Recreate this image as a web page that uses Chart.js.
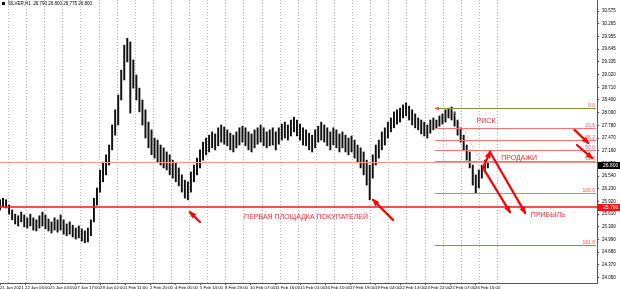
<!DOCTYPE html>
<html>
<head>
<meta charset="utf-8">
<script src="https://cdn.jsdelivr.net/npm/chart.js@4/dist/chart.umd.min.js"></script>
<style>
    html, body { margin: 0; padding: 0; background: #fff; }
    canvas { display: block; }
</style>
</head>
<body>
<canvas id="myChart" width="620" height="289"></canvas>
<script>
// price bars (one bar = 4 hours), highs and lows
const highs = [
    25.96, 26.00, 25.96, 25.83, 25.71, 25.61, 25.57, 25.66, 25.59, 25.52,
    25.61, 25.52, 25.47, 25.57, 25.66, 25.59, 25.49, 25.42, 25.52, 25.47,
    25.59, 25.47, 25.37, 25.42, 25.34, 25.27, 25.32, 25.25, 25.20, 25.27,
    25.47, 26.00, 26.25, 26.69, 26.88, 27.06, 27.30, 27.79, 28.16, 28.52,
    29.13, 29.74, 29.91, 29.82, 29.38, 29.01, 28.69, 28.40, 28.16, 27.86,
    27.67, 27.47, 27.42, 27.30, 27.23, 27.13, 27.06, 26.93, 26.86, 26.74,
    26.57, 26.44, 26.40, 26.64, 26.81, 26.98, 27.18, 27.37, 27.47, 27.54,
    27.62, 27.57, 27.72, 27.79, 27.74, 27.67, 27.59, 27.54, 27.62, 27.72,
    27.76, 27.72, 27.62, 27.57, 27.67, 27.72, 27.79, 27.72, 27.62, 27.67,
    27.72, 27.62, 27.72, 27.81, 27.86, 27.79, 27.91, 27.98, 27.91, 27.81,
    27.72, 27.67, 27.59, 27.54, 27.67, 27.76, 27.86, 27.79, 27.72, 27.62,
    27.72, 27.67, 27.57, 27.62, 27.54, 27.47, 27.52, 27.42, 27.30, 27.23,
    27.13, 26.93, 26.81, 27.06, 27.30, 27.42, 27.62, 27.72, 27.86, 27.96,
    28.11, 28.16, 28.20, 28.28, 28.33, 28.25, 28.16, 28.06, 27.96, 27.91,
    27.86, 27.79, 27.91, 27.96, 27.91, 28.01, 28.06, 28.16, 28.20, 28.23,
    28.11, 27.91, 27.72, 27.54, 27.30, 27.13, 26.81, 26.57, 26.69, 26.81,
    26.93, 26.88
];
const lows = [
    25.71, 25.79, 25.76, 25.61, 25.47, 25.37, 25.32, 25.42, 25.30, 25.27,
    25.32, 25.22, 25.20, 25.27, 25.32, 25.25, 25.20, 25.15, 25.22, 25.17,
    25.22, 25.12, 25.08, 25.12, 25.05, 25.00, 25.03, 24.95, 24.91, 24.93,
    25.08, 25.42, 25.83, 26.15, 26.40, 26.57, 26.81, 27.18, 27.54, 27.79,
    28.40, 28.89, 29.33, 28.08, 28.69, 28.40, 28.11, 27.79, 27.47, 27.23,
    27.06, 26.98, 26.88, 26.81, 26.74, 26.69, 26.57, 26.49, 26.40, 26.30,
    26.15, 26.00, 25.96, 26.15, 26.40, 26.57, 26.74, 26.93, 27.06, 27.13,
    27.23, 27.18, 27.28, 27.37, 27.32, 27.28, 27.18, 27.13, 27.23, 27.30,
    27.37, 27.28, 27.18, 27.13, 27.23, 27.32, 27.37, 27.28, 27.23, 27.28,
    27.30, 27.18, 27.32, 27.42, 27.47, 27.42, 27.52, 27.62, 27.52, 27.42,
    27.30, 27.28, 27.18, 27.13, 27.23, 27.37, 27.42, 27.37, 27.28, 27.18,
    27.30, 27.23, 27.13, 27.23, 27.13, 27.06, 27.13, 26.98, 26.88, 26.74,
    26.57, 26.32, 25.96, 26.49, 26.81, 26.98, 27.18, 27.30, 27.47, 27.62,
    27.72, 27.81, 27.86, 27.96, 28.01, 27.91, 27.79, 27.72, 27.67, 27.57,
    27.52, 27.47, 27.59, 27.67, 27.72, 27.76, 27.81, 27.86, 27.96, 27.91,
    27.76, 27.54, 27.37, 27.18, 26.93, 26.74, 26.32, 26.13, 26.25, 26.49,
    26.64, 26.74
];

// axis labels
const priceTicks = [
    30.575, 30.265, 29.955, 29.645, 29.335, 29.020, 28.710, 28.400, 28.090, 27.780, 27.470,
    27.160, 26.850, 26.540, 26.230, 25.920, 25.610, 25.300, 24.990, 24.680, 24.370, 24.050
];
const dateLabels = [
    "21 Jan 2021", "22 Jan 06:00", "25 Jan 04:00", "27 Jan 17:00", "29 Jan 02:00",
    "1 Feb 11:00", "2 Feb 20:00", "4 Feb 05:00", "5 Feb 14:00", "8 Feb 23:00",
    "10 Feb 07:00", "11 Feb 16:00", "15 Feb 01:00", "16 Feb 10:00", "17 Feb 19:00",
    "19 Feb 04:00", "22 Feb 13:00", "23 Feb 22:00", "25 Feb 07:00", "26 Feb 16:00"
];

// fibonacci levels
const fibNames = ["0.0", "23.6", "38.2", "50.0", "61.8", "100.0", "161.8"];
const fibPrices = [28.20, 27.71, 27.41, 27.17, 26.92, 26.13, 24.85];
const fibColors = ["#7a9a3a", "#ff7070", "#ff7070", "#ff7070", "#ff7070", "#ff7070", "#7a9a3a"];

const buyersLine = 25.79;
const pinkLine = 26.88;
const lastPrice = 26.80;
const headerText = "SILVER,H1  26.790 26.800 26.775 26.800";

// annotations: [bar, price]
const arrows = [
    { from: [66.0, 25.42], to: [62.7, 25.66], head: true },
    { from: [129.7, 25.47], to: [123.1, 25.96], head: true },
    { from: [159.4, 26.74], to: [161.7, 27.13], head: true },
    { from: [159.4, 26.74], to: [168.3, 25.66], head: true },
    { from: [161.7, 27.13], to: [173.3, 25.64], head: true },
    { from: [189.6, 27.67], to: [194.1, 27.35], head: true },
    { from: [190.4, 27.30], to: [195.4, 26.98], head: true }
];
const notes = [
    { text: "РИСК", at: [160.4, 27.88] },
    { text: "ПРОДАЖИ", at: [171.3, 26.98] },
    { text: "ПРИБЫЛЬ", at: [180.9, 25.59] },
    { text: "ПЕРВАЯ ПЛОЩАДКА ПОКУПАТЕЛЕЙ", at: [101.0, 25.54] }
];
const fibStart = 143.6;

const X_MAX = 197;
const LABEL_STEP = 8.25;
const GRID_START = 2.64;
const GRID_STEP = 5.977;
const GRID_COUNT = 28;
const SMALL_FONT = "'Liberation Sans Narrow', 'Liberation Sans'";

function drawArrow(ctx, x1, y1, x2, y2, head) {
    ctx.beginPath();
    ctx.moveTo(x1, y1);
    ctx.lineTo(x2, y2);
    ctx.stroke();
    if (!head) return;
    let a = Math.atan2(y2 - y1, x2 - x1);
    let len = 6, w = 3;
    ctx.beginPath();
    ctx.moveTo(x2 + Math.cos(a) * 1.5, y2 + Math.sin(a) * 1.5);
    ctx.lineTo(x2 - Math.cos(a) * len - Math.sin(a) * w, y2 - Math.sin(a) * len + Math.cos(a) * w);
    ctx.lineTo(x2 - Math.cos(a) * len + Math.sin(a) * w, y2 - Math.sin(a) * len - Math.cos(a) * w);
    ctx.closePath();
    ctx.fill();
}

function priceBox(ctx, y, value, bg, left, width) {
    let py = Math.round(y.getPixelForValue(value));
    ctx.fillStyle = bg;
    ctx.fillRect(left, py - 3, width, 7);
    ctx.fillStyle = "#fff";
    ctx.font = "5px " + SMALL_FONT;
    ctx.textAlign = "left";
    ctx.textBaseline = "middle";
    ctx.fillText(value.toFixed(3), left + 5, py + 0.5);
}

const overlay = {
    id: "overlay",
    beforeDatasetsDraw(chart) {
        let { ctx, chartArea, scales: { x } } = chart;
        ctx.save();
        ctx.strokeStyle = "#b8b8b8";
        ctx.lineWidth = 1;
        ctx.setLineDash([1, 2]);
        for (let k = 0; k < GRID_COUNT; k++) {
            let px = Math.round(x.getPixelForValue(GRID_START + k * GRID_STEP)) + 0.5;
            ctx.beginPath();
            ctx.moveTo(px, chartArea.top);
            ctx.lineTo(px, chartArea.bottom);
            ctx.stroke();
        }
        ctx.restore();
    },
    afterDatasetsDraw(chart) {
        let { ctx, chartArea, scales: { x, y } } = chart;
        ctx.save();
        ctx.beginPath();
        ctx.rect(chartArea.left, chartArea.top, chartArea.width, chartArea.height);
        ctx.clip();

        // full width lines
        ctx.strokeStyle = "#ff9090";
        ctx.lineWidth = 1;
        let py = Math.round(y.getPixelForValue(pinkLine)) + 0.5;
        ctx.beginPath(); ctx.moveTo(chartArea.left, py); ctx.lineTo(chartArea.right, py); ctx.stroke();

        ctx.strokeStyle = "#ff1010";
        ctx.lineWidth = 1.6;
        py = Math.round(y.getPixelForValue(buyersLine));
        ctx.beginPath(); ctx.moveTo(chartArea.left, py); ctx.lineTo(chartArea.right, py); ctx.stroke();

        // fibo trend line
        ctx.strokeStyle = "#ffb0b0";
        ctx.lineWidth = 1;
        ctx.setLineDash([2, 2]);
        ctx.beginPath();
        ctx.moveTo(x.getPixelForValue(149), y.getPixelForValue(fibPrices[0]));
        ctx.lineTo(x.getPixelForValue(164.3), y.getPixelForValue(fibPrices[5]));
        ctx.stroke();
        ctx.setLineDash([]);

        // fibo levels
        let fx = x.getPixelForValue(fibStart);
        fibPrices.forEach((p, i) => {
            let ly = Math.round(y.getPixelForValue(p)) + 0.5;
            ctx.strokeStyle = fibColors[i];
            ctx.beginPath(); ctx.moveTo(fx, ly); ctx.lineTo(chartArea.right - 1, ly); ctx.stroke();
            ctx.fillStyle = "#ff5050";
            ctx.font = "5px " + SMALL_FONT;
            ctx.textAlign = "right";
            ctx.textBaseline = "bottom";
            ctx.fillText(fibNames[i], chartArea.right - 2, ly - 0.5);
        });
        // small arrow tip at the fibo start
        ctx.fillStyle = "#ff5050";
        let ty = Math.round(y.getPixelForValue(fibPrices[0])) + 0.5;
        ctx.beginPath(); ctx.moveTo(fx - 1, ty); ctx.lineTo(fx + 4, ty - 2); ctx.lineTo(fx + 4, ty + 2); ctx.closePath(); ctx.fill();

        // arrows
        ctx.strokeStyle = "#ff0000";
        ctx.fillStyle = "#ff0000";
        ctx.lineWidth = 2.2;
        ctx.lineCap = "round";
        arrows.forEach(a => {
            drawArrow(ctx,
                x.getPixelForValue(a.from[0]), y.getPixelForValue(a.from[1]),
                x.getPixelForValue(a.to[0]), y.getPixelForValue(a.to[1]), a.head);
        });

        // texts
        ctx.fillStyle = "#ff2a2a";
        ctx.font = "7px 'Liberation Sans'";
        ctx.textAlign = "center";
        ctx.textBaseline = "middle";
        notes.forEach(n => {
            ctx.fillText(n.text, x.getPixelForValue(n.at[0]), y.getPixelForValue(n.at[1]));
        });
        ctx.restore();
    },
    afterDraw(chart) {
        let { ctx, chartArea, scales: { y } } = chart;
        ctx.save();
        priceBox(ctx, y, lastPrice, "#000", chartArea.right + 1, 22);
        priceBox(ctx, y, buyersLine, "#ff1010", chartArea.right + 1, 22);

        // header
        ctx.fillStyle = "#000";
        ctx.fillRect(2, 2, 3, 3);
        ctx.font = "4.5px " + SMALL_FONT;
        ctx.textAlign = "left";
        ctx.textBaseline = "middle";
        ctx.fillText(headerText, 8, 4);
        ctx.restore();
    }
};

// render the price chart
function renderChart(bars) {
    let myChart = document.getElementById("myChart");

    let priceChart = new Chart(myChart, {
        type: "bar",
        data: {
            datasets: [{
                label: "SILVER",
                data: bars,
                backgroundColor: "#111",
                borderWidth: 0,
                barThickness: 1.3,
                grouped: false
            }]
        },
        options: {
            responsive: false,
            animation: false,
            devicePixelRatio: 1,
            layout: { padding: 0 },
            plugins: {
                legend: { display: false },
                tooltip: { enabled: false }
            },
            scales: {
                x: {
                    type: "linear",
                    min: 0,
                    max: X_MAX,
                    offset: false,
                    position: "bottom",
                    afterBuildTicks: s => {
                        s.ticks = dateLabels.map((l, k) => ({ value: k * LABEL_STEP }));
                    },
                    afterFit: s => {
                        s.height = 6;
                        s.paddingLeft = 0;
                        s.paddingRight = 0;
                    },
                    ticks: {
                        autoSkip: false,
                        maxRotation: 0,
                        align: "start",
                        padding: 0,
                        color: "#000",
                        font: { size: 4.3, family: SMALL_FONT },
                        callback: (v, i) => dateLabels[i]
                    },
                    grid: {
                        drawOnChartArea: false,
                        offset: false,
                        tickLength: 2,
                        color: "#555"
                    },
                    border: { color: "#555" }
                },
                y: {
                    type: "linear",
                    position: "right",
                    min: 23.927,
                    max: 30.844,
                    afterBuildTicks: s => {
                        s.ticks = priceTicks.map(v => ({ value: v }));
                    },
                    afterFit: s => {
                        s.width = 23;
                        s.paddingTop = 0;
                        s.paddingBottom = 0;
                    },
                    ticks: {
                        padding: 3,
                        color: "#000",
                        font: { size: 4.5, family: SMALL_FONT },
                        callback: v => v.toFixed(3)
                    },
                    grid: {
                        drawOnChartArea: false,
                        tickLength: 2,
                        color: "#555"
                    },
                    border: { color: "#555" }
                }
            }
        },
        plugins: [overlay]
    });
}

// build bars from the arrays and draw
function init() {
    let bars = highs.map((h, i) => ({ x: i, y: [lows[i], h] }));
    renderChart(bars);
}

init();
</script>
</body>
</html>
